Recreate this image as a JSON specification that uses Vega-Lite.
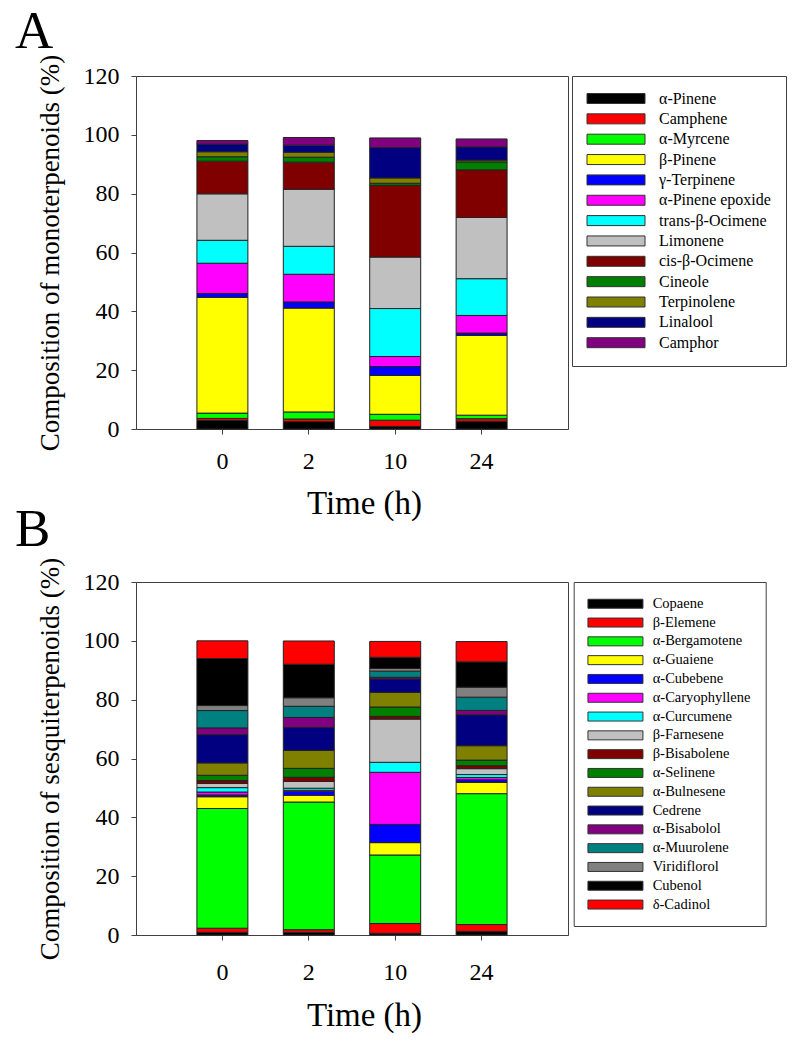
{
  "$schema": "https://vega.github.io/schema/vega-lite/v6.json",
  "background": "white",
  "padding": {"left": 14, "top": 5, "right": 5, "bottom": 5},
  "bounds": "flush",
  "spacing": 153,
  "datasets": {
    "mono": [
      {"time": 0, "compound": "α-Pinene", "k": 1, "pct": 2.9},
      {"time": 0, "compound": "Camphene", "k": 2, "pct": 0.7},
      {"time": 0, "compound": "α-Myrcene", "k": 3, "pct": 1.8},
      {"time": 0, "compound": "β-Pinene", "k": 4, "pct": 39.3},
      {"time": 0, "compound": "γ-Terpinene", "k": 5, "pct": 1.35},
      {"time": 0, "compound": "α-Pinene epoxide", "k": 6, "pct": 10.3},
      {"time": 0, "compound": "trans-β-Ocimene", "k": 7, "pct": 7.8},
      {"time": 0, "compound": "Limonene", "k": 8, "pct": 15.8},
      {"time": 0, "compound": "cis-β-Ocimene", "k": 9, "pct": 11.1},
      {"time": 0, "compound": "Cineole", "k": 10, "pct": 1.5},
      {"time": 0, "compound": "Terpinolene", "k": 11, "pct": 1.7},
      {"time": 0, "compound": "Linalool", "k": 12, "pct": 2.6},
      {"time": 0, "compound": "Camphor", "k": 13, "pct": 1.2},
      {"time": 2, "compound": "α-Pinene", "k": 1, "pct": 2.5},
      {"time": 2, "compound": "Camphene", "k": 2, "pct": 0.9},
      {"time": 2, "compound": "α-Myrcene", "k": 3, "pct": 2.4},
      {"time": 2, "compound": "β-Pinene", "k": 4, "pct": 35.3},
      {"time": 2, "compound": "γ-Terpinene", "k": 5, "pct": 2.1},
      {"time": 2, "compound": "α-Pinene epoxide", "k": 6, "pct": 9.4},
      {"time": 2, "compound": "trans-β-Ocimene", "k": 7, "pct": 9.5},
      {"time": 2, "compound": "Limonene", "k": 8, "pct": 19.4},
      {"time": 2, "compound": "cis-β-Ocimene", "k": 9, "pct": 9.2},
      {"time": 2, "compound": "Cineole", "k": 10, "pct": 1.7},
      {"time": 2, "compound": "Terpinolene", "k": 11, "pct": 1.7},
      {"time": 2, "compound": "Linalool", "k": 12, "pct": 2.4},
      {"time": 2, "compound": "Camphor", "k": 13, "pct": 2.6},
      {"time": 10, "compound": "α-Pinene", "k": 1, "pct": 0.9},
      {"time": 10, "compound": "Camphene", "k": 2, "pct": 2.1},
      {"time": 10, "compound": "α-Myrcene", "k": 3, "pct": 2.0},
      {"time": 10, "compound": "β-Pinene", "k": 4, "pct": 13.2},
      {"time": 10, "compound": "γ-Terpinene", "k": 5, "pct": 3.05},
      {"time": 10, "compound": "α-Pinene epoxide", "k": 6, "pct": 3.4},
      {"time": 10, "compound": "trans-β-Ocimene", "k": 7, "pct": 16.3},
      {"time": 10, "compound": "Limonene", "k": 8, "pct": 17.5},
      {"time": 10, "compound": "cis-β-Ocimene", "k": 9, "pct": 24.4},
      {"time": 10, "compound": "Cineole", "k": 10, "pct": 0.7},
      {"time": 10, "compound": "Terpinolene", "k": 11, "pct": 1.8},
      {"time": 10, "compound": "Linalool", "k": 12, "pct": 10.3},
      {"time": 10, "compound": "Camphor", "k": 13, "pct": 3.3},
      {"time": 24, "compound": "α-Pinene", "k": 1, "pct": 2.6},
      {"time": 24, "compound": "Camphene", "k": 2, "pct": 0.9},
      {"time": 24, "compound": "α-Myrcene", "k": 3, "pct": 1.2},
      {"time": 24, "compound": "β-Pinene", "k": 4, "pct": 27.1},
      {"time": 24, "compound": "γ-Terpinene", "k": 5, "pct": 0.8},
      {"time": 24, "compound": "α-Pinene epoxide", "k": 6, "pct": 6.0},
      {"time": 24, "compound": "trans-β-Ocimene", "k": 7, "pct": 12.5},
      {"time": 24, "compound": "Limonene", "k": 8, "pct": 20.8},
      {"time": 24, "compound": "cis-β-Ocimene", "k": 9, "pct": 16.2},
      {"time": 24, "compound": "Cineole", "k": 10, "pct": 2.7},
      {"time": 24, "compound": "Terpinolene", "k": 11, "pct": 0.6},
      {"time": 24, "compound": "Linalool", "k": 12, "pct": 4.5},
      {"time": 24, "compound": "Camphor", "k": 13, "pct": 2.7}
    ],
    "sesq": [
      {"time": 0, "compound": "Copaene", "k": 1, "pct": 0.9},
      {"time": 0, "compound": "β-Elemene", "k": 2, "pct": 1.4},
      {"time": 0, "compound": "α-Bergamotene", "k": 3, "pct": 40.7},
      {"time": 0, "compound": "α-Guaiene", "k": 4, "pct": 4.0},
      {"time": 0, "compound": "α-Cubebene", "k": 5, "pct": 0.6},
      {"time": 0, "compound": "α-Caryophyllene", "k": 6, "pct": 1.0},
      {"time": 0, "compound": "α-Curcumene", "k": 7, "pct": 1.5},
      {"time": 0, "compound": "β-Farnesene", "k": 8, "pct": 1.4},
      {"time": 0, "compound": "β-Bisabolene", "k": 9, "pct": 1.0},
      {"time": 0, "compound": "α-Selinene", "k": 10, "pct": 1.8},
      {"time": 0, "compound": "α-Bulnesene", "k": 11, "pct": 4.2},
      {"time": 0, "compound": "Cedrene", "k": 12, "pct": 9.6},
      {"time": 0, "compound": "α-Bisabolol", "k": 13, "pct": 2.3},
      {"time": 0, "compound": "α-Muurolene", "k": 14, "pct": 5.9},
      {"time": 0, "compound": "Viridiflorol", "k": 15, "pct": 1.7},
      {"time": 0, "compound": "Cubenol", "k": 16, "pct": 16.0},
      {"time": 0, "compound": "δ-Cadinol", "k": 17, "pct": 6.0},
      {"time": 2, "compound": "Copaene", "k": 1, "pct": 0.9},
      {"time": 2, "compound": "β-Elemene", "k": 2, "pct": 0.9},
      {"time": 2, "compound": "α-Bergamotene", "k": 3, "pct": 43.4},
      {"time": 2, "compound": "α-Guaiene", "k": 4, "pct": 2.3},
      {"time": 2, "compound": "α-Cubebene", "k": 5, "pct": 1.4},
      {"time": 2, "compound": "α-Caryophyllene", "k": 6, "pct": 0.3},
      {"time": 2, "compound": "α-Curcumene", "k": 7, "pct": 0.7},
      {"time": 2, "compound": "β-Farnesene", "k": 8, "pct": 2.3},
      {"time": 2, "compound": "β-Bisabolene", "k": 9, "pct": 1.4},
      {"time": 2, "compound": "α-Selinene", "k": 10, "pct": 3.05},
      {"time": 2, "compound": "α-Bulnesene", "k": 11, "pct": 6.1},
      {"time": 2, "compound": "Cedrene", "k": 12, "pct": 7.8},
      {"time": 2, "compound": "α-Bisabolol", "k": 13, "pct": 3.4},
      {"time": 2, "compound": "α-Muurolene", "k": 14, "pct": 3.8},
      {"time": 2, "compound": "Viridiflorol", "k": 15, "pct": 2.9},
      {"time": 2, "compound": "Cubenol", "k": 16, "pct": 11.4},
      {"time": 2, "compound": "δ-Cadinol", "k": 17, "pct": 7.9},
      {"time": 10, "compound": "Copaene", "k": 1, "pct": 0.6},
      {"time": 10, "compound": "β-Elemene", "k": 2, "pct": 3.3},
      {"time": 10, "compound": "α-Bergamotene", "k": 3, "pct": 23.3},
      {"time": 10, "compound": "α-Guaiene", "k": 4, "pct": 4.2},
      {"time": 10, "compound": "α-Cubebene", "k": 5, "pct": 6.2},
      {"time": 10, "compound": "α-Caryophyllene", "k": 6, "pct": 17.7},
      {"time": 10, "compound": "α-Curcumene", "k": 7, "pct": 3.4},
      {"time": 10, "compound": "β-Farnesene", "k": 8, "pct": 14.7},
      {"time": 10, "compound": "β-Bisabolene", "k": 9, "pct": 0.9},
      {"time": 10, "compound": "α-Selinene", "k": 10, "pct": 3.2},
      {"time": 10, "compound": "α-Bulnesene", "k": 11, "pct": 5.0},
      {"time": 10, "compound": "Cedrene", "k": 12, "pct": 4.5},
      {"time": 10, "compound": "α-Bisabolol", "k": 13, "pct": 0.6},
      {"time": 10, "compound": "α-Muurolene", "k": 14, "pct": 2.1},
      {"time": 10, "compound": "Viridiflorol", "k": 15, "pct": 0.9},
      {"time": 10, "compound": "Cubenol", "k": 16, "pct": 3.8},
      {"time": 10, "compound": "δ-Cadinol", "k": 17, "pct": 5.4},
      {"time": 24, "compound": "Copaene", "k": 1, "pct": 1.25},
      {"time": 24, "compound": "β-Elemene", "k": 2, "pct": 2.3},
      {"time": 24, "compound": "α-Bergamotene", "k": 3, "pct": 44.5},
      {"time": 24, "compound": "α-Guaiene", "k": 4, "pct": 3.8},
      {"time": 24, "compound": "α-Cubebene", "k": 5, "pct": 0.9},
      {"time": 24, "compound": "α-Caryophyllene", "k": 6, "pct": 0.8},
      {"time": 24, "compound": "α-Curcumene", "k": 7, "pct": 1.0},
      {"time": 24, "compound": "β-Farnesene", "k": 8, "pct": 2.0},
      {"time": 24, "compound": "β-Bisabolene", "k": 9, "pct": 1.0},
      {"time": 24, "compound": "α-Selinene", "k": 10, "pct": 1.9},
      {"time": 24, "compound": "α-Bulnesene", "k": 11, "pct": 4.9},
      {"time": 24, "compound": "Cedrene", "k": 12, "pct": 10.5},
      {"time": 24, "compound": "α-Bisabolol", "k": 13, "pct": 1.5},
      {"time": 24, "compound": "α-Muurolene", "k": 14, "pct": 4.5},
      {"time": 24, "compound": "Viridiflorol", "k": 15, "pct": 3.4},
      {"time": 24, "compound": "Cubenol", "k": 16, "pct": 8.6},
      {"time": 24, "compound": "δ-Cadinol", "k": 17, "pct": 6.9}
    ]
  },
  "vconcat": [
    {
      "width": 432,
      "height": 353,
      "data": {"name": "mono"},
      "title": {"text": "A", "offset": -5},
      "mark": {"type": "bar", "stroke": "#222222", "strokeWidth": 1},
      "encoding": {
        "x": {
          "field": "time", "type": "ordinal", "sort": [0, 2, 10, 24],
          "scale": {"paddingInner": 0.41, "paddingOuter": 0.705},
          "axis": {"title": "Time (h)", "labelAngle": 0}
        },
        "y": {
          "field": "pct", "type": "quantitative", "stack": "zero",
          "scale": {"domain": [0, 120], "nice": false},
          "axis": {"title": "Composition of monoterpenoids (%)", "values": [0, 20, 40, 60, 80, 100, 120]}
        },
        "color": {
          "field": "compound", "type": "nominal",
          "scale": {
            "domain": ["α-Pinene", "Camphene", "α-Myrcene", "β-Pinene", "γ-Terpinene", "α-Pinene epoxide", "trans-β-Ocimene", "Limonene", "cis-β-Ocimene", "Cineole", "Terpinolene", "Linalool", "Camphor"],
            "range": ["#000000", "#ff0000", "#00ff00", "#ffff00", "#0000ff", "#ff00ff", "#00ffff", "#c0c0c0", "#800000", "#008000", "#808000", "#000080", "#800080"]
          },
          "legend": {
            "title": null, "orient": "none", "legendX": 436, "legendY": 0,
            "padding": 14.5, "rowPadding": 4.35,
            "symbolType": "M-1.5,-1L10.1,-1L10.1,1L-1.5,1Z", "symbolSize": 100,
            "labelOffset": 56.5, "labelFontSize": 16
          }
        },
        "order": {"field": "k", "type": "quantitative", "sort": "ascending"}
      }
    },
    {
      "width": 432,
      "height": 353,
      "data": {"name": "sesq"},
      "title": {"text": "B", "offset": -3},
      "mark": {"type": "bar", "stroke": "#222222", "strokeWidth": 1},
      "encoding": {
        "x": {
          "field": "time", "type": "ordinal", "sort": [0, 2, 10, 24],
          "scale": {"paddingInner": 0.41, "paddingOuter": 0.705},
          "axis": {"title": "Time (h)", "labelAngle": 0, "labelPadding": 20, "titlePadding": 15}
        },
        "y": {
          "field": "pct", "type": "quantitative", "stack": "zero",
          "scale": {"domain": [0, 120], "nice": false},
          "axis": {"title": "Composition of  sesquiterpenoids (%)", "values": [0, 20, 40, 60, 80, 100, 120]}
        },
        "color": {
          "field": "compound", "type": "nominal",
          "scale": {
            "domain": ["Copaene", "β-Elemene", "α-Bergamotene", "α-Guaiene", "α-Cubebene", "α-Caryophyllene", "α-Curcumene", "β-Farnesene", "β-Bisabolene", "α-Selinene", "α-Bulnesene", "Cedrene", "α-Bisabolol", "α-Muurolene", "Viridiflorol", "Cubenol", "δ-Cadinol"],
            "range": ["#000000", "#ff0000", "#00ff00", "#ffff00", "#0000ff", "#ff00ff", "#00ffff", "#c0c0c0", "#800000", "#008000", "#808000", "#000080", "#800080", "#008080", "#808080", "#000000", "#ff0000"]
          },
          "legend": {
            "title": null, "orient": "none", "legendX": 437.7, "legendY": 0,
            "padding": 14.5, "rowPadding": 3.8,
            "symbolType": "M-1.5,-0.9L9.5,-0.9L9.5,0.9L-1.5,0.9Z", "symbolSize": 100,
            "labelOffset": 50, "labelFontSize": 14.5
          }
        },
        "order": {"field": "k", "type": "quantitative", "sort": "ascending"}
      }
    }
  ],
  "resolve": {"scale": {"color": "independent"}, "legend": {"color": "independent"}},
  "config": {
    "view": {"stroke": "#404040", "strokeWidth": 1},
    "title": {"font": "Liberation Serif", "fontSize": 53, "fontWeight": "normal", "color": "black", "anchor": "start", "frame": "group", "dx": -121},
    "axis": {
      "labelFont": "Liberation Serif", "labelFontSize": 24, "labelColor": "black",
      "titleFont": "Liberation Serif", "titleFontWeight": "normal", "titleColor": "black",
      "domainColor": "#404040", "tickColor": "#404040", "tickSize": 5, "grid": false
    },
    "axisX": {"titleFontSize": 33, "labelPadding": 15, "titlePadding": 14, "titleX": 228},
    "axisY": {"titleFontSize": 27, "labelPadding": 12, "titlePadding": 19},
    "legend": {
      "strokeColor": "#404040", "fillColor": "white",
      "labelFont": "Liberation Serif", "labelColor": "black",
      "symbolStrokeColor": "#333333", "symbolStrokeWidth": 1, "symbolOpacity": 1
    }
  }
}
